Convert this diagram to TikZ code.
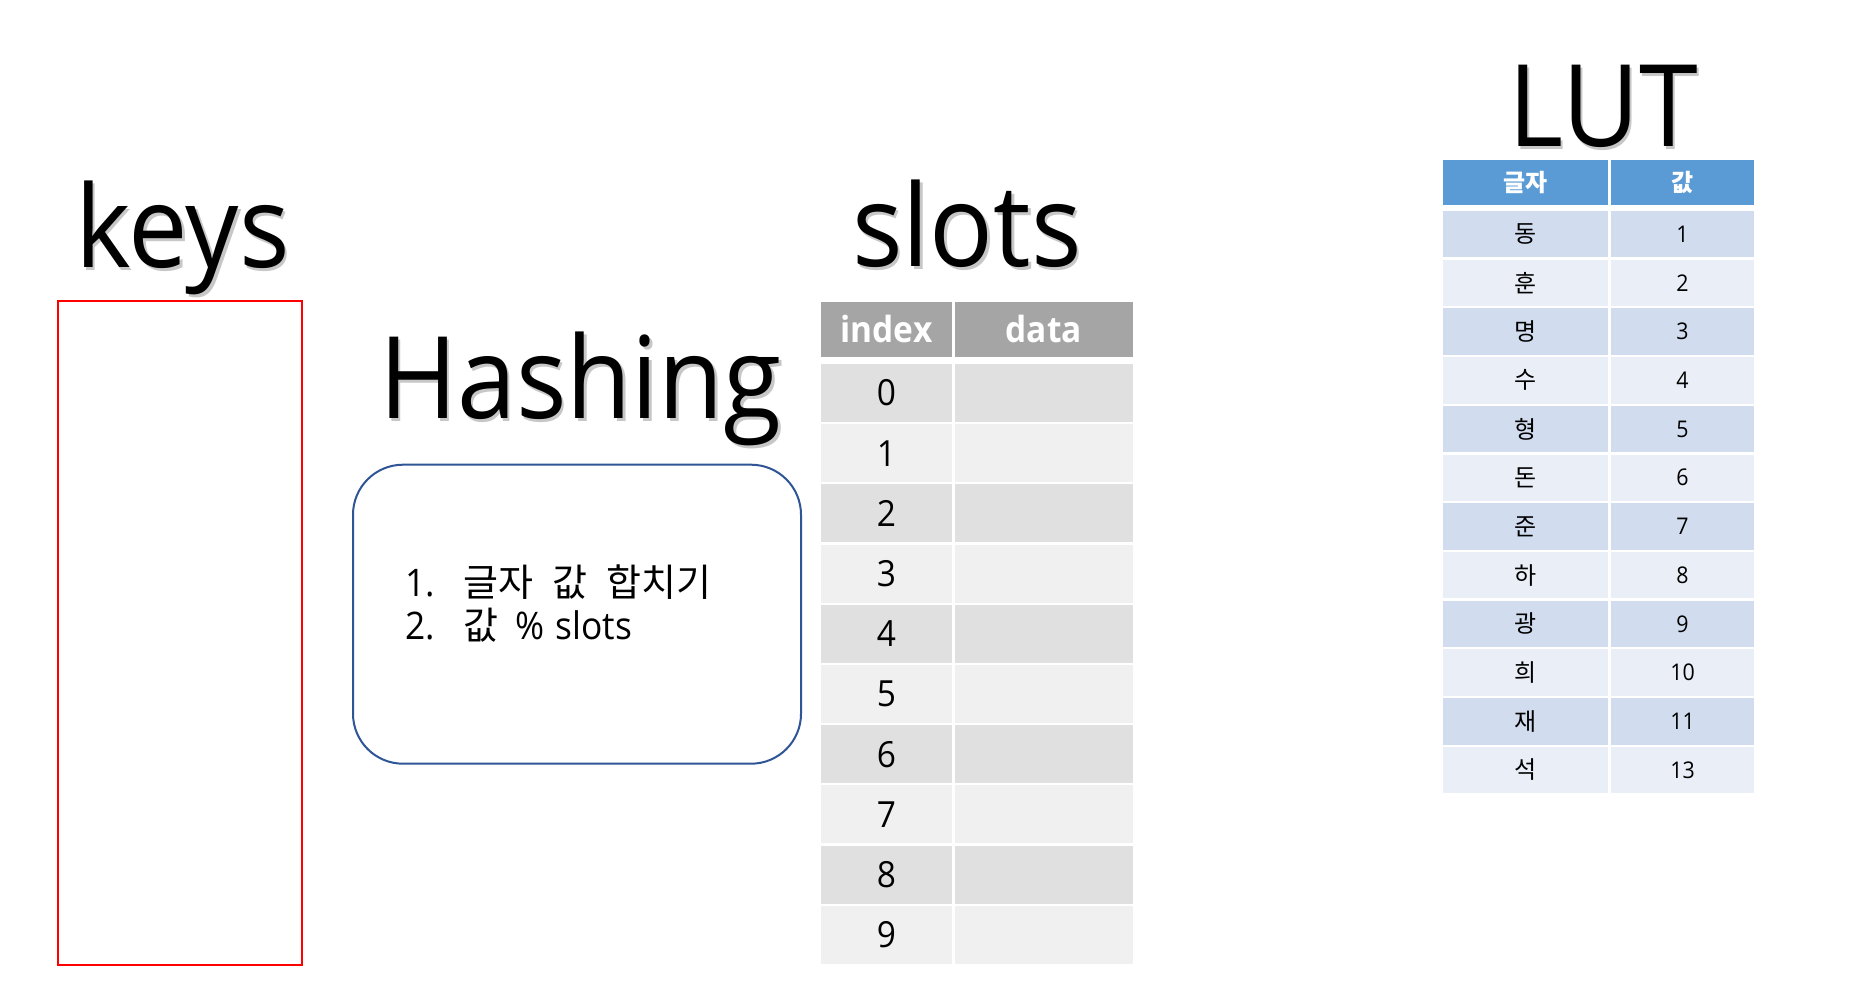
\documentclass[tikz,border=0pt]{standalone}
\usepackage{fontspec}
\setmainfont{Open Sans}[FakeStretch=0.93]
\newfontfamily\kr{Noto Sans CJK KR}
\definecolor{shead}{HTML}{A5A5A5}
\definecolor{sdark}{HTML}{E0E0E0}
\definecolor{slight}{HTML}{F0F0F0}
\definecolor{lhead}{HTML}{5B9BD5}
\definecolor{ldark}{HTML}{D1DDEF}
\definecolor{llight}{HTML}{E9EEF7}
\definecolor{hashblue}{HTML}{2F5597}
\newcommand\shadtxt[1]{\rlap{\hspace{2.5pt}\raisebox{-3pt}{\color{black!22}#1}}#1}
\begin{document}
\begin{tikzpicture}[x=1pt,y=-1pt,
  title/.style={font=\fontsize{114}{120}\selectfont, anchor=base, inner sep=0pt},
  cell/.style={rectangle, inner sep=0pt, outer sep=0pt},
  slotcell/.style={cell, minimum height=58pt, font=\fontsize{36}{40}\selectfont},
  slothead/.style={cell, fill=shead, minimum height=55pt, text=white, font=\fontsize{36}{40}\selectfont\bfseries},
  lutcell/.style={cell, minimum height=46.5pt, font=\fontsize{23}{26}\selectfont},
  luthead/.style={cell, fill=lhead, minimum height=45pt, text=white, font=\fontsize{24}{26}\selectfont\kr\bfseries},
  hashbox/.style={rectangle, draw=hashblue, line width=2pt, rounded corners=50pt, minimum width=448pt, minimum height=299pt},
  keysbox/.style={rectangle, draw=red, line width=2pt, minimum width=244pt, minimum height=664pt},
  boxtext/.style={anchor=base west, inner sep=0pt, font=\fontsize{38}{43}\selectfont}
]
\useasboundingbox (0,0) rectangle (1868,981);
\fill[white] (0,0) rectangle (1868,981);

% titles with soft shadow
\node[title] (keystitle) at (182.5,268) {\shadtxt{keys}};
\node[title] (hashtitle) at (580.5,418) {\shadtxt{Hashing}};
\node[title] (slotstitle) at (967,267) {\shadtxt{slots}};
\node[title] (luttitle) at (1603,147) {\shadtxt{LUT}};

% keys box
\node[keysbox] (keys) at (180,633) {};

% hashing box
\node[hashbox] (hash) at (577,614.2) {};
\node[boxtext] (h1n) at (405,596) {1.};
\node[boxtext] (h1t) at (463,596) {\kr 글자\hspace{0.5em}값\hspace{0.5em}합치기};
\node[boxtext] (h2n) at (405,639) {2.};
\node[boxtext] (h2t) at (463,639) {{\kr 값}\hspace{0.45em}\%\hspace{0.3em}slots};

% slots table
\node[slothead, minimum width=131pt] (sih) at (886.5,329.5) {index};
\node[slothead, minimum width=178.5pt] (sdh) at (1043.75,329.5) {data};
\foreach \i/\c in {0/sdark,1/slight,2/sdark,3/slight,4/sdark,5/slight,6/sdark,7/slight,8/sdark,9/slight}{
  \pgfmathsetmacro{\cy}{393+60.2*\i}
  \node[slotcell, fill=\c, minimum width=131pt] (si\i) at (886.5,\cy) {\i};
  \node[slotcell, fill=\c, minimum width=178.5pt] (sd\i) at (1043.75,\cy) {};
}

% LUT table
\node[luthead, minimum width=165pt] (lk) at (1525.5,182.5) {글자};
\node[luthead, minimum width=143pt] (lv) at (1682.5,182.5) {값};
\foreach \j/\k/\v/\c in {0/동/1/ldark,1/훈/2/llight,2/명/3/ldark,3/수/4/llight,4/형/5/ldark,5/돈/6/llight,6/준/7/ldark,7/하/8/llight,8/광/9/ldark,9/희/10/llight,10/재/11/ldark,11/석/13/llight}{
  \pgfmathsetmacro{\cy}{234.25+48.7*\j}
  \node[lutcell, fill=\c, minimum width=165pt, font=\fontsize{24}{26}\selectfont\kr] (lk\j) at (1525.5,\cy) {\k};
  \node[lutcell, fill=\c, minimum width=143pt] (lv\j) at (1682.5,\cy) {\v};
}
\end{tikzpicture}
\end{document}
